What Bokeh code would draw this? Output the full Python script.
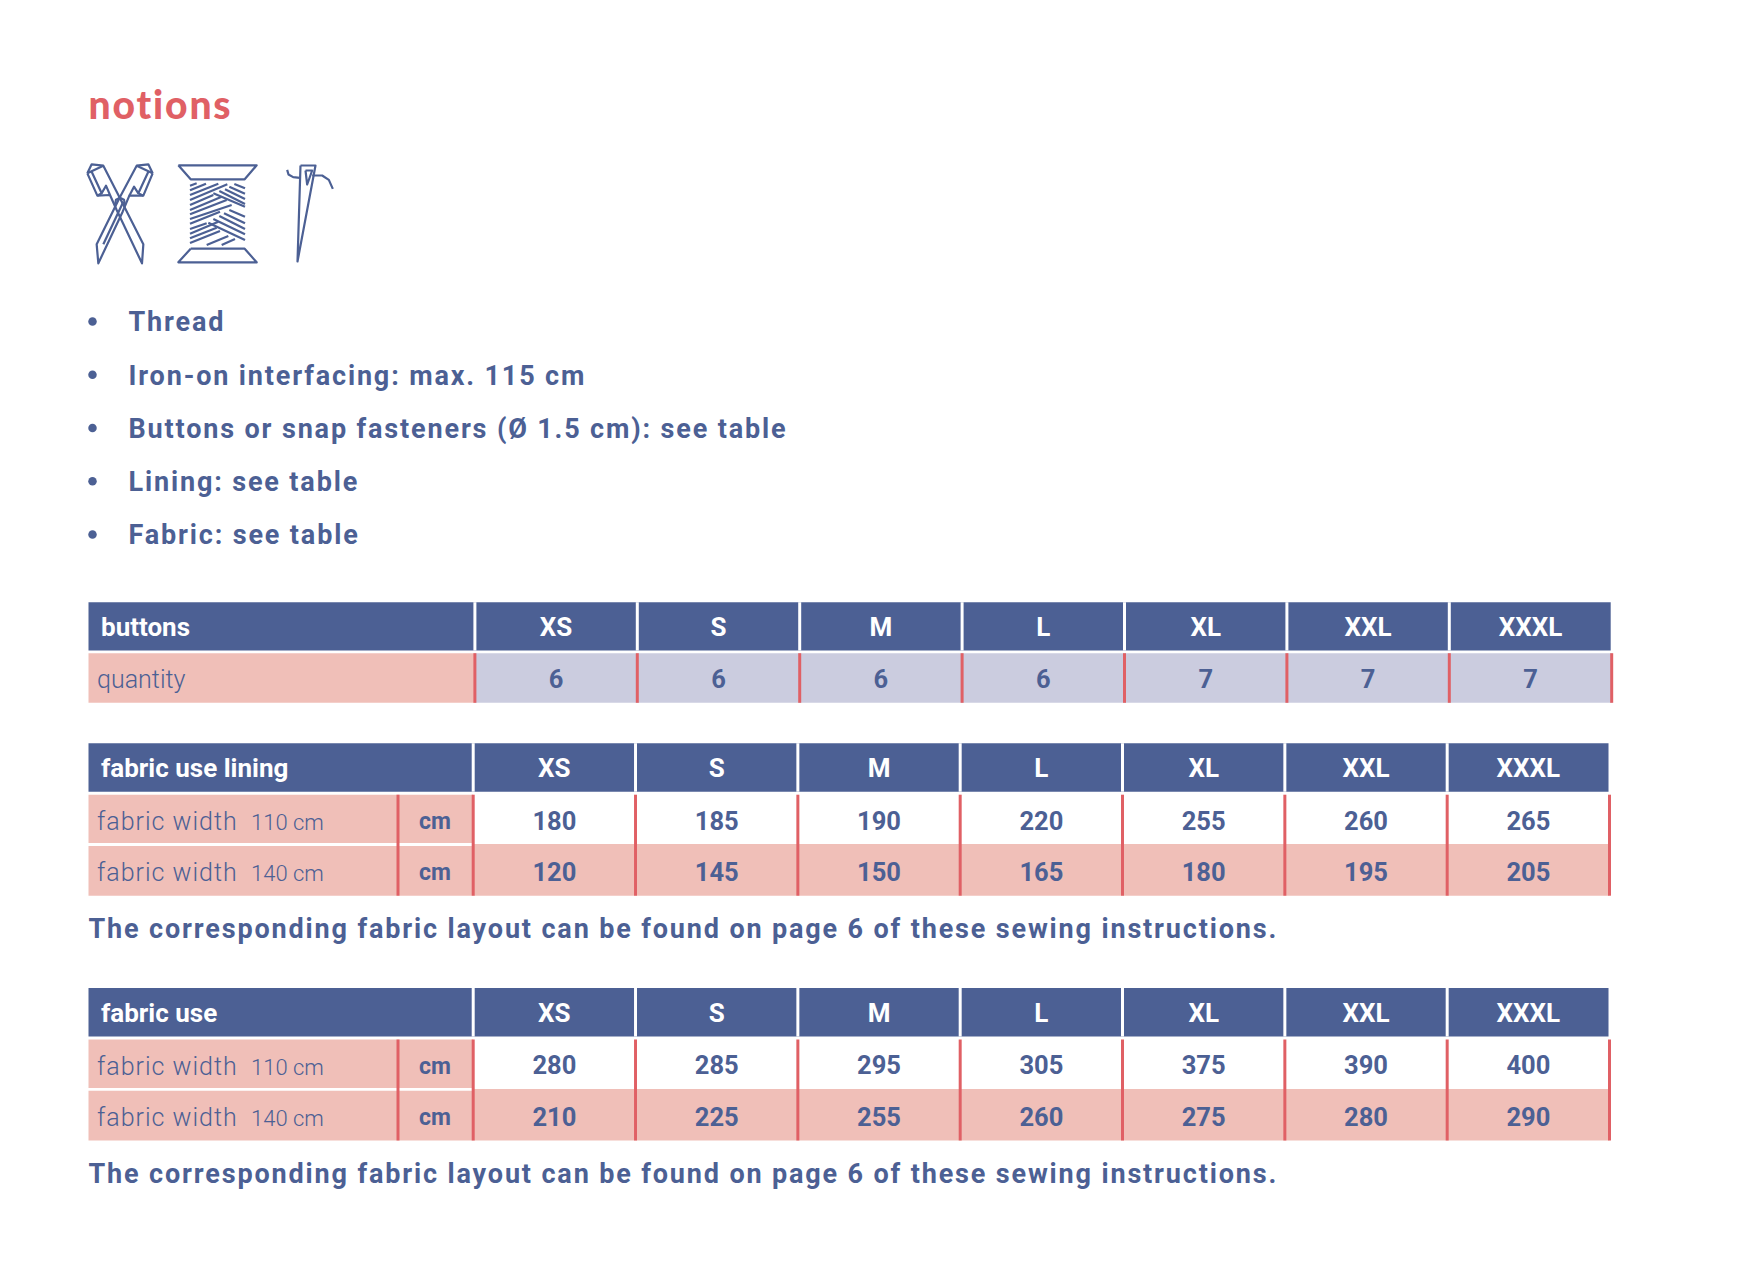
from bokeh.plotting import figure
from bokeh.models import Range1d, GridBox
from bokeh.core.properties import value
from bokeh.embed import file_html
from bokeh.resources import INLINE

# ---------- content ----------
title_text = "notions"
bullets = ["Thread", "Iron-on interfacing: max. 115 cm",
           "Buttons or snap fasteners (Ø 1.5 cm): see table",
           "Lining: see table", "Fabric: see table"]
sizes = ["XS", "S", "M", "L", "XL", "XXL", "XXXL"]
buttons_qty = [6, 6, 6, 6, 7, 7, 7]
lining_110 = [180, 185, 190, 220, 255, 260, 265]
lining_140 = [120, 145, 150, 165, 180, 195, 205]
fabric_110 = [280, 285, 295, 305, 375, 390, 400]
fabric_140 = [210, 225, 255, 260, 275, 280, 290]
note = "The corresponding fabric layout can be found on page 6 of these sewing instructions."

# ---------- style ----------
BLUE, PINK, RED, LAV = "#4C6094", "#F0BFB8", "#E06065", "#CBCCDF"
BODY = "Roboto"
LIGHT = "Roboto Light"
X0 = 88.0
BASE_FIX = 0.36  # baseline correction, in em


def make_fig():
    f = figure(width=1740, height=1264, output_backend="svg", toolbar_location=None,
               x_range=Range1d(0, 1740), y_range=Range1d(1264, 0),
               x_axis_location=None, y_axis_location=None, min_border=0,
               outline_line_color=None)
    f.grid.visible = False
    return f


p = make_fig()
p.background_fill_color = "white"
# transparent layers: tracked-out text
q = make_fig()
q.background_fill_alpha = 0
q.border_fill_alpha = 0
q.styles = {"letter-spacing": "1.85px"}
r = make_fig()
r.background_fill_alpha = 0
r.border_fill_alpha = 0
r.styles = {"letter-spacing": "1px"}


def text(x, y, s, size, color=BLUE, align="left", style="bold", font=BODY, fig=None):
    (fig or p).text(x=[x], y=[y - BASE_FIX * size], text=[s], text_font=value(font),
                    text_font_size=value(f"{size}px"), text_color=color, text_align=align,
                    text_baseline="alphabetic", text_font_style=style)


def box(x1, x2, y1, y2, color):
    p.quad(left=[x1], right=[x2], top=[y1], bottom=[y2], fill_color=color, line_color=None)


def vline(x, y1, y2, color, w):
    box(x - w / 2, x + w / 2, y1, y2, color)


# ---------- title, bullets ----------
text(88, 118, title_text, 39, RED, font="Lato Black", style="normal", fig=q)
for i, b in enumerate(bullets):
    y = 321 + i * 53.25
    p.scatter(x=[92], y=[y], size=8.5, marker="circle", fill_color=BLUE, line_color=None)
    text(128, y + 10.5, b, 27, fig=q)


# ---------- icons (local sketch units) ----------
def icon(paths, ox, oy, s=1 / 3, w=2.2):
    xs = [[ox + a[0] * s for a in path] for path in paths]
    ys = [[oy + a[1] * s for a in path] for path in paths]
    p.multi_line(xs=xs, ys=ys, line_color=BLUE, line_width=w, line_join="round")


scissors = [
    [(22, 55), (35, 28), (70, 32), (120, 130), (190, 268), (186, 325), (110, 165), (90, 120), (52, 122), (22, 55)],
    [(22, 55), (70, 32)], [(35, 50), (65, 115), (52, 122)], [(65, 115), (78, 92), (90, 120)],
    [(218, 55), (205, 28), (170, 32), (118, 130), (50, 268), (55, 325), (128, 170), (148, 122), (190, 122), (218, 55)],
    [(218, 55), (170, 32)], [(205, 50), (175, 115), (190, 122)], [(175, 115), (162, 95), (148, 122)],
    [(70, 268), (130, 140)],
    [(105, 150), (108, 134), (120, 128), (132, 134), (135, 150)],
]
icon(scissors, 79.5, 154.5)

spool_frame = [
    [(25, 31), (260, 31), (224, 73), (62, 73), (25, 31)],
    [(62, 281), (224, 281), (260, 322), (25, 322), (62, 281)],
]
icon(spool_frame, 169.5, 154.5)
spool_threads = [
    [(60, 92), (80, 85)], [(60, 106), (108, 86)], [(60, 120), (145, 86)], [(60, 135), (172, 88)],
    [(60, 150), (130, 120)], [(60, 165), (155, 125)], [(60, 178), (170, 135)], [(60, 192), (185, 150)],
    [(60, 206), (150, 170)],
    [(193, 87), (225, 100)], [(178, 95), (225, 116)], [(165, 103), (225, 132)], [(148, 108), (225, 147)],
    [(130, 115), (225, 155)],
    [(178, 165), (225, 185)], [(162, 175), (225, 205)], [(148, 183), (225, 222)], [(130, 192), (225, 238)],
    [(115, 203), (225, 255)],
    [(60, 222), (110, 205)], [(60, 236), (145, 200)], [(60, 250), (140, 218)], [(60, 264), (150, 228)],
    [(110, 270), (175, 243)], [(155, 270), (195, 252)],
]
icon(spool_threads, 169.5, 154.5, w=2.2)

needle = [
    [(720, 315), (765, 315), (711, 603), (720, 315)],
    [(735, 330), (755, 330), (740, 372), (735, 330)],
    [(680, 328), (684, 342), (698, 350), (718, 352)],
    [(755, 345), (785, 345), (805, 358), (817, 385)],
]
icon(needle, 60, 60)


# ---------- tables ----------
def header(left, top, bottom, pitch, title):
    box(X0, left + 7 * pitch - 1, top, bottom, BLUE)
    text(100.5, top + 34.5, title, 26, "white")
    for j, s in enumerate(sizes):
        vline(left + j * pitch, top, bottom, "white", 3)
        text(left + (j + .5) * pitch, top + 34.5, s, 26, "white", "center")


# buttons
L1, P1, T1 = 474.4, 162.4, 601.7
header(L1, T1, 650, P1, "buttons")
box(X0, L1, 652.7, 702.3, PINK)
box(L1, L1 + 7 * P1, 652.7, 702.3, LAV)
text(96.5, 687.5, "quantity", 25, style="normal", font=LIGHT)
for j, v in enumerate(buttons_qty):
    vline(L1 + j * P1, 652.7, 702.3, RED, 3)
    text(L1 + (j + .5) * P1, 686.7, str(v), 25.5, align="center")
vline(L1 + 7 * P1, 652.7, 702.3, RED, 3)


def two_row(top, title, row1, row2):
    L, P = 472.7, 162.33
    hb = top + 48.5
    r1, r1b, r2, r2m, r2b = hb + 3, hb + 51.4, hb + 54.2, hb + 52.4, hb + 104
    header(L, top, hb, P, title)
    box(X0, L, r1, r1b, PINK)
    box(X0, L, r2, r2b, PINK)
    box(L, L + 7 * P, r2m, r2b, PINK)
    for rowtop, w, vals in ((r1, "110 cm", row1), (r2, "140 cm", row2)):
        base = rowtop + 35.5
        text(96.5, base, "fabric width", 25, style="normal", font=LIGHT, fig=r)
        text(250.5, base, w, 22, style="normal", font=LIGHT)
        text(434.5, base - 0.5, "cm", 23, align="center")
        for j, v in enumerate(vals):
            text(L + (j + .5) * P, base - 1, str(v), 25.5, align="center")
    vline(397.5, r1, r2b, RED, 3)
    for j in range(8):
        vline(L + j * P, r1, r2b, RED, 3)
    text(X0, r2b + 43.3, note, 27, fig=q)


two_row(742.7, "fabric use lining", lining_110, lining_140)
two_row(987.5, "fabric use", fabric_110, fabric_140)

root = GridBox(children=[(p, 0, 0), (q, 0, 0), (r, 0, 0)])
open("out.html", "w").write(file_html(root, INLINE))
